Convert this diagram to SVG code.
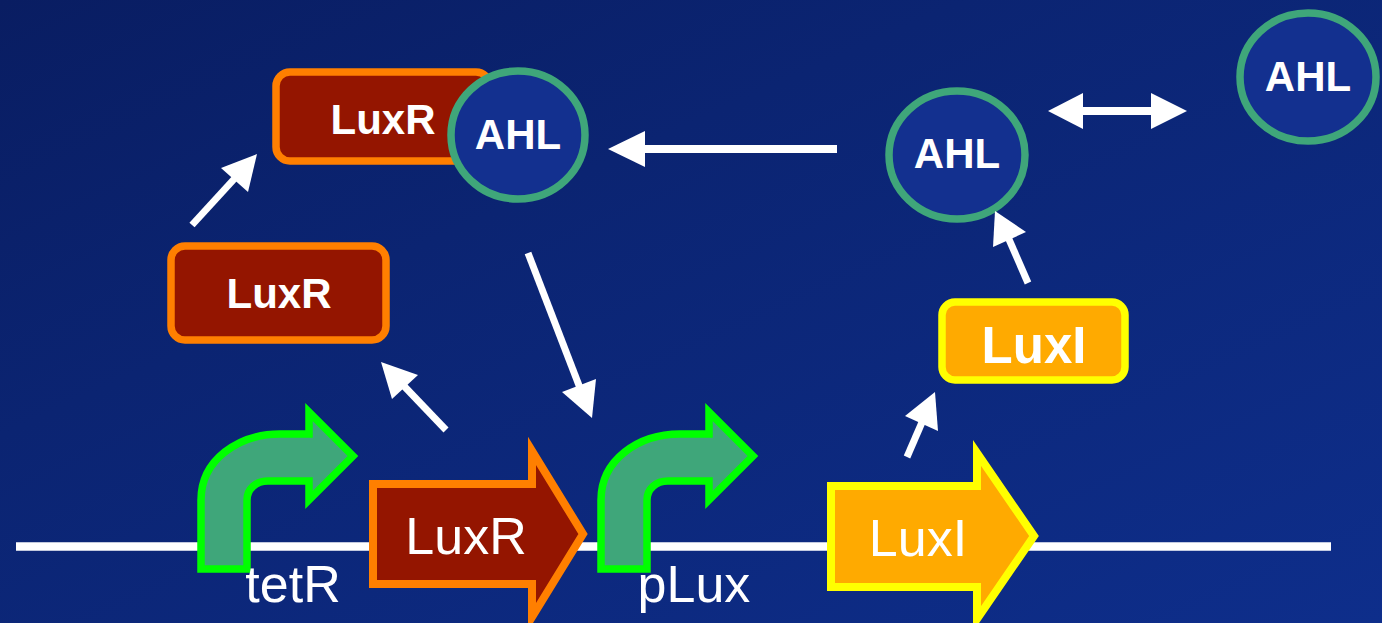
<svg xmlns="http://www.w3.org/2000/svg" width="1382" height="623" viewBox="0 0 1382 623">
  <defs>
    <linearGradient id="bg" x1="0" y1="0" x2="1" y2="1">
      <stop offset="0" stop-color="#091d62"/>
      <stop offset="0.35" stop-color="#0b2472"/>
      <stop offset="1" stop-color="#0e2e8b"/>
    </linearGradient>
    <style>
      .prom { fill: #3fa67a; stroke: #00ff00; stroke-width: 7.5; stroke-linejoin: miter; }
      .geneR { fill: #941500; stroke: #ff7f00; stroke-width: 8; stroke-linejoin: miter; }
      .geneI { fill: #ffaa00; stroke: #ffff00; stroke-width: 8; stroke-linejoin: miter; }
      .boxR { fill: #941500; stroke: #ff7f00; stroke-width: 7.5; }
      .boxI { fill: #ffaa00; stroke: #ffff00; stroke-width: 7.5; }
      .ahl { fill: #13308f; stroke: #3fa67a; stroke-width: 7.5; }
      .lbl { font-family: "Liberation Sans", Arial, sans-serif; fill: #ffffff; text-anchor: middle; }
      .reg { font-size: 52px; }
      .bold { font-weight: bold; }
      .conn line { stroke: #ffffff; stroke-width: 7; }
      .conn polygon { fill: #ffffff; }
    </style>
  </defs>
  <rect x="0" y="0" width="1382" height="623" fill="url(#bg)"/>

  <g id="dna">
    <line x1="16" y1="546.5" x2="1331" y2="546.5" stroke="#ffffff" stroke-width="8.5"/>
  </g>

  <g id="promoter-tetR">
    <path class="prom" d="M201,569 V500 C201,460 238,434 280,434 H309 V412 L353,456 L309,500 V481 H268 C256,481 247,489 247,500 V569 Z"/>
    <text class="lbl reg" x="293" y="602">tetR</text>
  </g>

  <g id="gene-LuxR">
    <path class="geneR" d="M373,484 H532 V451 L583,534 L532,617 V584 H373 Z"/>
    <text class="lbl reg" x="466" y="554">LuxR</text>
  </g>

  <g id="promoter-pLux">
    <path class="prom" d="M601,569 V500 C601,460 638,434 680,434 H709 V412 L753,456 L709,500 V481 H668 C656,481 647,489 647,500 V569 Z"/>
    <text class="lbl reg" x="694" y="602">pLux</text>
  </g>

  <g id="gene-LuxI">
    <path class="geneI" d="M831,486 H977 V453 L1034,536 L977,619 V587 H831 Z"/>
    <text class="lbl reg" x="918" y="556">LuxI</text>
  </g>

  <g id="protein-LuxR">
    <rect class="boxR" x="171" y="246" width="215" height="94" rx="14"/>
    <text class="lbl bold" x="279" y="308" font-size="42">LuxR</text>
  </g>

  <g id="complex-LuxR">
    <rect class="boxR" x="276" y="72" width="214" height="89" rx="14"/>
    <text class="lbl bold" x="383" y="134" font-size="42">LuxR</text>
  </g>

  <g id="complex-AHL">
    <ellipse class="ahl" cx="518" cy="135" rx="67" ry="64"/>
    <text class="lbl bold" x="518" y="149" font-size="42">AHL</text>
  </g>

  <g id="protein-LuxI">
    <rect class="boxI" x="942" y="302" width="183" height="78" rx="13"/>
    <text class="lbl bold" x="1034" y="363" font-size="51">LuxI</text>
  </g>

  <g id="AHL-inside">
    <ellipse class="ahl" cx="957" cy="155" rx="68" ry="64"/>
    <text class="lbl bold" x="957" y="168" font-size="42">AHL</text>
  </g>

  <g id="AHL-outside">
    <ellipse class="ahl" cx="1308" cy="77" rx="68" ry="64"/>
    <text class="lbl bold" x="1308" y="91" font-size="42">AHL</text>
  </g>

  <g id="connectors" class="conn">
    <line x1="192" y1="225" x2="236" y2="177"/>
    <polygon points="257,154 221,168 248,192"/>

    <line x1="837" y1="149" x2="643" y2="149" style="stroke-width:8"/>
    <polygon points="608,149 645,131 645,167"/>

    <line x1="528" y1="253" x2="580" y2="388"/>
    <polygon points="592,418 562,392 596,379"/>

    <line x1="446" y1="430" x2="403" y2="385"/>
    <polygon points="381,362 392,399 418,375"/>

    <line x1="907" y1="457" x2="923" y2="420"/>
    <polygon points="935,392 905,416 938,431"/>

    <line x1="1028" y1="283" x2="1008" y2="237"/>
    <polygon points="995,211 993,247 1026,232"/>

    <line x1="1081" y1="111" x2="1153" y2="111" style="stroke-width:8"/>
    <polygon points="1048,111 1083,93 1083,129"/>
    <polygon points="1187,111 1151,93 1151,129"/>
  </g>
</svg>
